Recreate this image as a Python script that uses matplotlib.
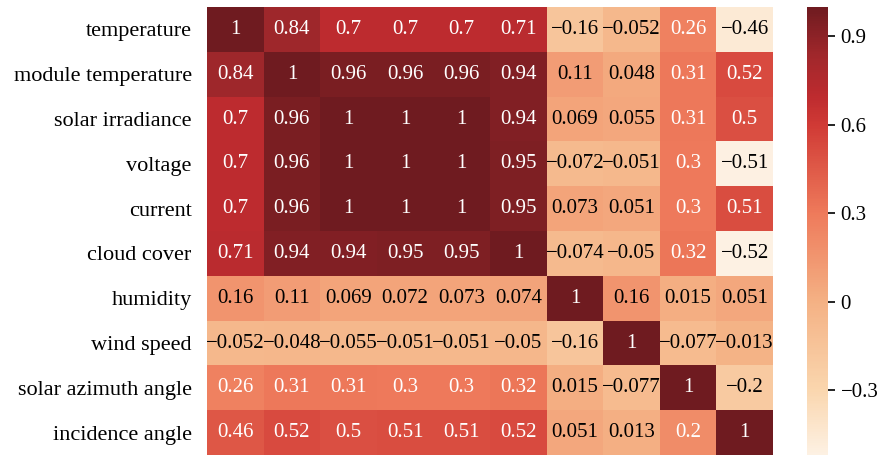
import numpy as np
import matplotlib
matplotlib.use("Agg")
import matplotlib.pyplot as plt
from matplotlib.colors import LinearSegmentedColormap, Normalize, to_rgb
from matplotlib.ticker import FuncFormatter

plt.rcParams["font.family"] = ["Liberation Serif", "DejaVu Serif"]

labels = [
    "temperature", "module temperature", "solar irradiance", "voltage",
    "current", "cloud cover", "humidity", "wind speed",
    "solar azimuth angle", "incidence angle",
]

corr = np.array([
    [1, 0.84, 0.7, 0.7, 0.7, 0.71, -0.16, -0.052, 0.26, -0.46],
    [0.84, 1, 0.96, 0.96, 0.96, 0.94, 0.11, 0.048, 0.31, 0.52],
    [0.7, 0.96, 1, 1, 1, 0.94, 0.069, 0.055, 0.31, 0.5],
    [0.7, 0.96, 1, 1, 1, 0.95, -0.072, -0.051, 0.3, -0.51],
    [0.7, 0.96, 1, 1, 1, 0.95, 0.073, 0.051, 0.3, 0.51],
    [0.71, 0.94, 0.94, 0.95, 0.95, 1, -0.074, -0.05, 0.32, -0.52],
    [0.16, 0.11, 0.069, 0.072, 0.073, 0.074, 1, 0.16, 0.015, 0.051],
    [-0.052, -0.048, -0.055, -0.051, -0.051, -0.05, -0.16, 1, -0.077, -0.013],
    [0.26, 0.31, 0.31, 0.3, 0.3, 0.32, 0.015, -0.077, 1, -0.2],
    [0.46, 0.52, 0.5, 0.51, 0.51, 0.52, 0.051, 0.013, 0.2, 1],
])

cbar_ticks = [0.9, 0.6, 0.3, 0.0, -0.3]

vmin, vmax = corr.min(), corr.max()

# warm sequential palette, cream -> peach -> salmon -> red -> dark wine
anchors = [(-0.52, "#fdf1e3"), (-0.3, "#fad6ae"), (0.0, "#f4b184"),
           (0.3, "#ee7a5b"), (0.6, "#d03a35"), (0.7, "#bd2b2f"),
           (0.84, "#a0272b"), (1.0, "#6f1b20")]
pos = [(v - vmin) / (vmax - vmin) for v, _ in anchors]
pos[0], pos[-1] = 0.0, 1.0
cmap = LinearSegmentedColormap.from_list("warm", list(zip(pos, [c for _, c in anchors])))
norm = Normalize(vmin=vmin, vmax=vmax)

fig = plt.figure(figsize=(8.82, 4.57), dpi=100)
W, H = 882, 457
ax = fig.add_axes([207 / W, 2 / H, 566 / W, 448 / H])
cax = fig.add_axes([807 / W, 2 / H, 21 / W, 448 / H])

n = len(labels)
mesh = ax.pcolormesh(np.arange(n + 1), np.arange(n + 1), corr, cmap=cmap, norm=norm)
ax.set_xlim(0, n)
ax.set_ylim(n, 0)
ax.set_xticks([])
ax.set_yticks(np.arange(n) + 0.5)
ax.set_yticklabels(labels, fontsize=16)
ax.tick_params(axis="y", length=0, pad=11)
for s in ax.spines.values():
    s.set_visible(False)


def lum(c):
    rgb = np.array(to_rgb(c))
    lin = np.where(rgb <= 0.03928, rgb / 12.92, ((rgb + 0.055) / 1.055) ** 2.4)
    return 0.2126 * lin[0] + 0.7152 * lin[1] + 0.0722 * lin[2]


def fmt(v):
    return format(v, ".2g").replace("-", "\u2212")


for i in range(n):
    for j in range(n):
        v = corr[i, j]
        color = cmap(norm(v))
        tc = "white" if lum(color) <= 0.408 else "black"
        ax.text(j + 0.5, i + 0.5, fmt(v), ha="center", va="center",
                fontsize=15, color=tc)

cb = fig.colorbar(mesh, cax=cax, ticks=cbar_ticks)
cb.outline.set_visible(False)
cb.ax.yaxis.set_major_formatter(FuncFormatter(lambda v, p: fmt(round(v, 2)) if abs(v) > 1e-9 else "0"))
cb.ax.tick_params(labelsize=15, length=5, width=1.2, pad=4)

fig.savefig("out.png", dpi=100)
